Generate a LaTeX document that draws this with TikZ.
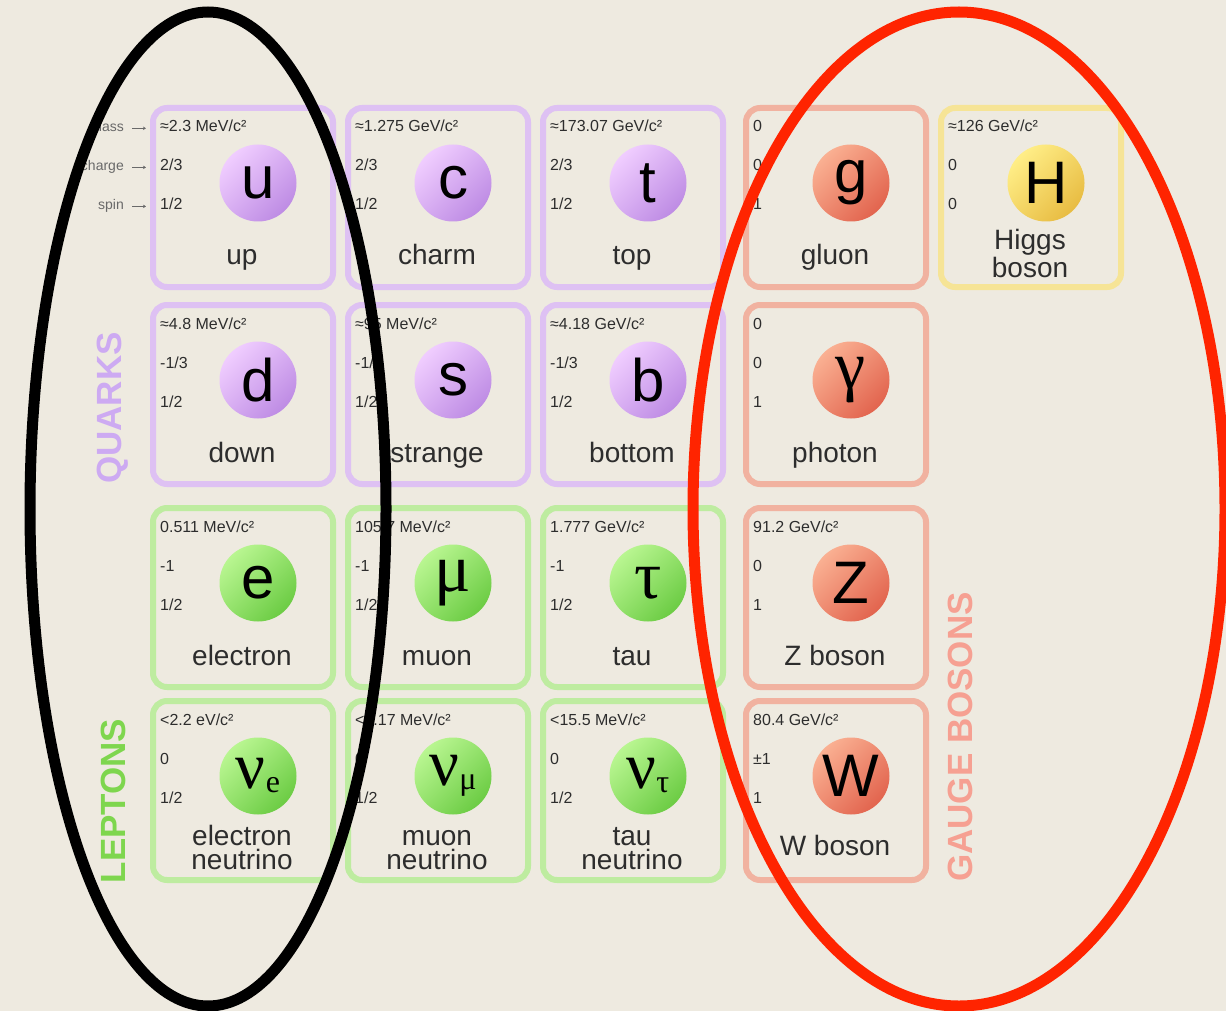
\documentclass[tikz,border=0pt]{standalone}
\usepackage{fontspec}
\setmainfont{Liberation Sans}
\newfontfamily\grk{Liberation Serif}
\usetikzlibrary{arrows.meta}
\definecolor{bg}{RGB}{238,234,224}
\definecolor{txtgray}{RGB}{45,45,45}
\definecolor{axgray}{RGB}{105,105,105}
\definecolor{qborder}{RGB}{222,193,243}
\definecolor{qlight}{RGB}{240,205,255}
\definecolor{qdark}{RGB}{190,140,228}
\definecolor{lborder}{RGB}{190,236,160}
\definecolor{llight}{RGB}{185,246,145}
\definecolor{ldark}{RGB}{108,204,68}
\definecolor{bborder}{RGB}{241,178,160}
\definecolor{blight}{RGB}{250,176,146}
\definecolor{bdark}{RGB}{226,100,78}
\definecolor{hborder}{RGB}{246,228,150}
\definecolor{hlight}{RGB}{255,238,135}
\definecolor{hdark}{RGB}{232,188,66}
\definecolor{quarkc}{RGB}{205,170,242}
\definecolor{leptonc}{RGB}{126,214,78}
\definecolor{gaugec}{RGB}{246,160,146}
\definecolor{ringred}{RGB}{255,36,0}
\newcommand{\sym}{\fontsize{60}{64}\selectfont}
\newcommand{\gsym}{\grk\fontsize{68}{72}\selectfont}
\newcommand{\nusym}[1]{{\grk\fontsize{66}{68}\selectfont ν\lower4pt\hbox{\fontsize{32}{32}\selectfont #1}}}
\newcommand{\cellgen}[9]{%
  \node[cellbox, draw=#4border, anchor=north west] (#1) at (#2,#3) {};
  \node[ball, top color=#4light, bottom color=#4dark, shading angle=45] (#1s) at (#2+108,#3+78) {#5};
  \node[valtxt, anchor=base west] (#1m) at (#2+10,#3+27) {#6};
  \node[valtxt, anchor=base west] (#1q) at (#2+10,#3+66) {#7};
  \node[valtxt, anchor=base west] (#1p) at (#2+10,#3+105) {#8};
  \node[nametxt, anchor=base] (#1n) at (#2+92,#3+\nameY) {#9};
}
\tikzset{
  cellbox/.style={rounded corners=14pt, line width=6pt, minimum width=180pt, minimum height=179pt, fill=bg, inner sep=0pt},
  ball/.style={circle, minimum size=77pt, inner sep=0pt, text=black},
  valtxt/.style={inner sep=0pt, text=txtgray, font=\fontsize{16}{18}\selectfont},
  nametxt/.style={inner sep=0pt, text=txtgray, align=center, font=\fontsize{28}{24}\selectfont},
  axlbl/.style={inner sep=0pt, text=axgray, font=\fontsize{14}{16}\selectfont, anchor=base east},
  axarrow/.style={draw=axgray, line width=0.6pt, -{Stealth[length=3pt,width=3.5pt]}, shorten <=8pt, shorten >=14pt},
  catlbl/.style={rotate=90, inner sep=0pt, font=\bfseries\fontsize{35}{40}\selectfont},
  ring/.style={line width=11pt}
}
\begin{document}
\begin{tikzpicture}[x=1pt,y=-1pt]
\useasboundingbox (0,0) rectangle (1226,1011);
\fill[bg] (0,0) rectangle (1226,1011);
% row 1
\def\nameY{160}
\cellgen{u}{150}{105}{q}{\sym u}{≈2.3 MeV/c²}{2/3}{1/2}{up}
\cellgen{c}{345}{105}{q}{\sym c}{≈1.275 GeV/c²}{2/3}{1/2}{charm}
\cellgen{t}{540}{105}{q}{\sym t}{≈173.07 GeV/c²}{2/3}{1/2}{top}
\cellgen{g}{743}{105}{b}{\sym g}{0}{0}{1}{gluon}
\def\nameY{172}
\cellgen{H}{938}{105}{h}{\sym H}{≈126 GeV/c²}{0}{0}{Higgs\\boson}
% row 2
\def\nameY{160}
\cellgen{d}{150}{302}{q}{\sym d}{≈4.8 MeV/c²}{-1/3}{1/2}{down}
\cellgen{s}{345}{302}{q}{\sym s}{≈95 MeV/c²}{-1/3}{1/2}{strange}
\cellgen{bq}{540}{302}{q}{\sym b}{≈4.18 GeV/c²}{-1/3}{1/2}{bottom}
\cellgen{ph}{743}{302}{b}{\gsym γ}{0}{0}{1}{photon}
% row 3
\cellgen{e}{150}{505}{l}{\sym e}{0.511 MeV/c²}{-1}{1/2}{electron}
\cellgen{mu}{345}{505}{l}{\gsym μ}{105.7 MeV/c²}{-1}{1/2}{muon}
\cellgen{tau}{540}{505}{l}{\gsym τ}{1.777 GeV/c²}{-1}{1/2}{tau}
\cellgen{Z}{743}{505}{b}{\sym Z}{91.2 GeV/c²}{0}{1}{Z boson}
% row 4
\def\nameY{171}
\cellgen{nue}{150}{698}{l}{\nusym{e}}{<2.2 eV/c²}{0}{1/2}{electron\\neutrino}
\cellgen{numu}{345}{698}{l}{\nusym{μ}}{<0.17 MeV/c²}{0}{1/2}{muon\\neutrino}
\cellgen{nutau}{540}{698}{l}{\nusym{τ}}{<15.5 MeV/c²}{0}{1/2}{tau\\neutrino}
\def\nameY{157}
\cellgen{W}{743}{698}{b}{\sym W}{80.4 GeV/c²}{±1}{1}{W boson}
% axis labels
\node[axlbl] (lmass) at (124,132) {mass};
\node[axlbl] (lcharge) at (124,171) {charge};
\node[axlbl] (lspin) at (124,210) {spin};
\draw[axarrow] (lmass.east) -- (lmass.east -| um.west);
\draw[axarrow] (lcharge.east) -- (lcharge.east -| uq.west);
\draw[axarrow] (lspin.east) -- (lspin.east -| up.west);
% category labels
\node[catlbl, text=quarkc] (quarks) at (113,408) {QUARKS};
\node[catlbl, text=leptonc] (leptons) at (113,801) {LEPTONS};
\node[catlbl, text=gaugec] (gauge) at (960,737) {GAUGE BOSONS};
% ellipses
\draw[ring, black] (208,509) ellipse [x radius=178pt, y radius=497pt];
\draw[ring, ringred] (959,509) ellipse [x radius=266pt, y radius=497pt];
\end{tikzpicture}
\end{document}
